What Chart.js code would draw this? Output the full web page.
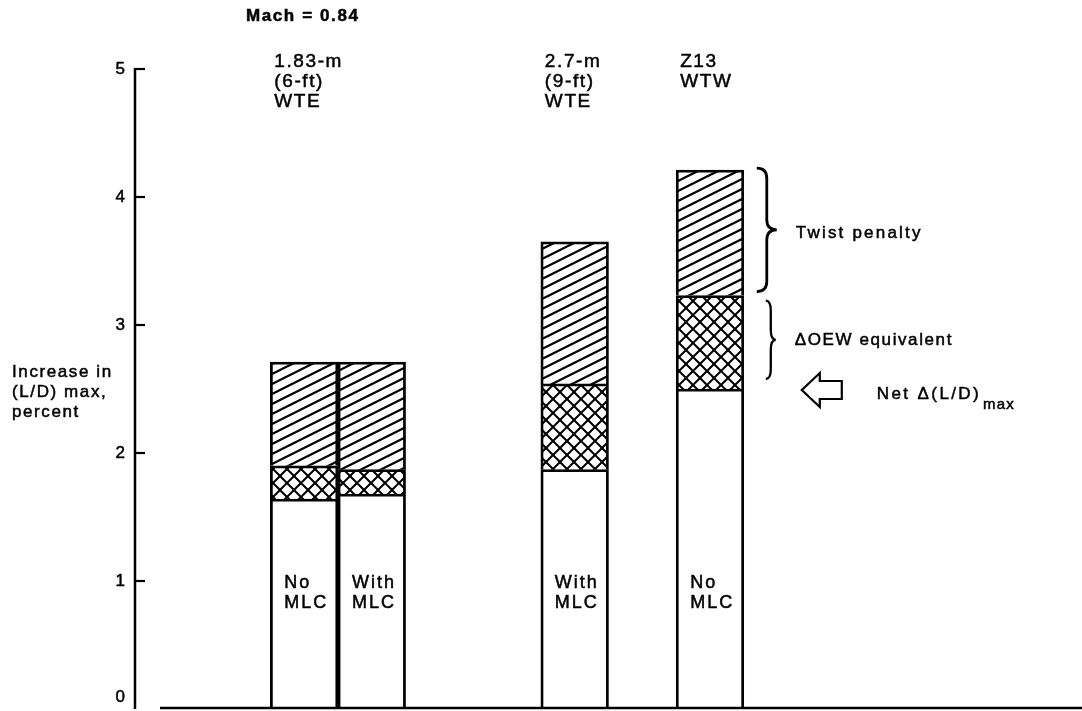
<!DOCTYPE html>
<html><head><meta charset="utf-8">
<script src="https://cdn.jsdelivr.net/npm/chart.js@4.4.1/dist/chart.umd.min.js"></script>
<style>html,body{margin:0;padding:0;background:#fff}#wrap{width:1082px;height:711px;position:relative}</style>
</head><body><div id="wrap"><canvas id="c"></canvas></div>
<script>
// ---- data ----
const categories = ['1.83-m (6-ft) WTE, No MLC', '1.83-m (6-ft) WTE, With MLC', '2.7-m (9-ft) WTE, With MLC', 'Z13 WTW, No MLC'];
const barPositions = [2.5, 3.5, 6.5, 8.5];
const netGain = [1.64, 1.68, 1.87, 2.50];        // Net Δ(L/D)max (white)
const oewEquivalent = [0.26, 0.19, 0.67, 0.73];  // ΔOEW equivalent (cross-hatch)
const twistPenalty = [0.81, 0.84, 1.11, 0.98];   // Twist penalty (diagonal hatch)
const barLabels = [['No', 'MLC'], ['With', 'MLC'], ['With', 'MLC'], ['No', 'MLC']];
const groupTitles = [['1.83-m', '(6-ft)', 'WTE'], null, ['2.7-m', '(9-ft)', 'WTE'], ['Z13', 'WTW']];
const yTicks = [0, 1, 2, 3, 4, 5];
const yTitle = ['Increase in', '(L/D) max,', 'percent'];
const chartTitle = 'Mach = 0.84';
const FONT = '"Liberation Sans", Arial, Helvetica, sans-serif';

function makeHatch() {
  const c = document.createElement('canvas'); c.width = 20; c.height = 10;
  const g = c.getContext('2d');
  g.fillStyle = '#fff'; g.fillRect(0, 0, 20, 10);
  g.strokeStyle = '#000'; g.lineWidth = 2.2;
  for (const dy of [-10, 0, 10]) { g.beginPath(); g.moveTo(-2, 11 + dy); g.lineTo(22, -1 + dy); g.stroke(); }
  return g.createPattern(c, 'repeat');
}
function makeCross() {
  const s = 14;
  const c = document.createElement('canvas'); c.width = s; c.height = s;
  const g = c.getContext('2d');
  g.fillStyle = '#fff'; g.fillRect(0, 0, s, s);
  g.strokeStyle = '#000'; g.lineWidth = 2;
  for (const ox of [-s, 0, s]) for (const oy of [-s, 0, s]) {
    g.beginPath(); g.moveTo(ox, oy); g.lineTo(ox + s, oy + s); g.stroke();
    g.beginPath(); g.moveTo(ox, oy + s); g.lineTo(ox + s, oy); g.stroke();
  }
  return g.createPattern(c, 'repeat');
}

const toPts = arr => barPositions.map((x, i) => ({ x, y: arr[i] }));
const common = { borderColor: '#000', borderWidth: 2.8, barPercentage: 1, categoryPercentage: 1, stack: 's' };
const datasets = [
  Object.assign({ label: 'Net Δ(L/D)max', data: toPts(netGain), backgroundColor: '#fff' }, common),
  Object.assign({ label: 'ΔOEW equivalent', data: toPts(oewEquivalent), backgroundColor: makeCross() }, common),
  Object.assign({ label: 'Twist penalty', data: toPts(twistPenalty), backgroundColor: makeHatch() }, common)
];

function txt(ctx, s, x, y, size, opts) {
  opts = opts || {};
  ctx.font = (opts.bold ? 'bold ' : '') + size + 'px ' + FONT;
  ctx.textAlign = opts.align || 'left';
  ctx.textBaseline = 'middle';
  try { ctx.letterSpacing = (opts.ls != null ? opts.ls : 1.8) + 'px'; } catch (e) {}
  ctx.fillText(s, x, y);
  ctx.lineWidth = 0.5; ctx.strokeText(s, x, y);
  const w = ctx.measureText(s).width;
  try { ctx.letterSpacing = '0px'; } catch (e) {}
  return w;
}

function brace(ctx, x0, x1, top, bot) {
  const mid = (top + bot) / 2, xm = (x0 + x1) / 2, r = Math.min(10, (bot - top) / 6);
  ctx.beginPath();
  ctx.moveTo(x0, top);
  ctx.quadraticCurveTo(xm, top, xm, top + r);
  ctx.lineTo(xm, mid - r);
  ctx.quadraticCurveTo(xm, mid, x1, mid);
  ctx.quadraticCurveTo(xm, mid, xm, mid + r);
  ctx.lineTo(xm, bot - r);
  ctx.quadraticCurveTo(xm, bot, x0, bot);
  ctx.stroke();
}

const decor = {
  id: 'decor',
  afterDraw(chart) {
    const ctx = chart.ctx, ys = chart.scales.y, ca = chart.chartArea;
    const mBot = chart.getDatasetMeta(0), mMid = chart.getDatasetMeta(1), mTop = chart.getDatasetMeta(2);
    ctx.save();
    ctx.strokeStyle = '#000'; ctx.fillStyle = '#000'; ctx.lineWidth = 2.5;
    const ax = ca.left;
    // y axis
    ctx.beginPath(); ctx.moveTo(ax, ys.getPixelForValue(5) - 1); ctx.lineTo(ax, ca.bottom); ctx.stroke();
    yTicks.forEach(v => {
      if (v === 0) return;
      const py = ys.getPixelForValue(v);
      ctx.lineWidth = 2.2;
      ctx.beginPath(); ctx.moveTo(ax - 1, py); ctx.lineTo(ax + 10, py); ctx.stroke();
    });
    yTicks.forEach(v => {
      const py = Math.min(ys.getPixelForValue(v), ca.bottom - 12);
      txt(ctx, String(v), ax - 10, py, 17, { align: 'right', ls: 0 });
    });
    // baseline
    ctx.lineWidth = 2.5;
    ctx.beginPath(); ctx.moveTo(ax + 25, ca.bottom - 1); ctx.lineTo(ca.right, ca.bottom - 1); ctx.stroke();

    // y title
    yTitle.forEach((s, i) => txt(ctx, s, 12, 372 + i * 20, 17, { ls: 1.6 }));
    // chart title
    txt(ctx, chartTitle, 246, 16, 17, { bold: true, ls: 1.6 });

    // group titles and bar labels
    mBot.data.forEach((el, i) => {
      const left = el.x - el.width / 2;
      if (groupTitles[i]) groupTitles[i].forEach((s, k) => txt(ctx, s, left + 4, 62 + k * 20, 19, { ls: 1.6 }));
      barLabels[i].forEach((s, k) => txt(ctx, s, left + 14, 583 + k * 20, 18, { ls: 2 }));
    });

    // braces for the last bar
    const last = barPositions.length - 1;
    const topPx = mTop.data[last].y, midPx = mMid.data[last].y, botPx = mBot.data[last].y;
    const rx = mBot.data[last].x + mBot.data[last].width / 2;
    ctx.lineWidth = 2.8;
    brace(ctx, rx + 13, rx + 33, topPx - 2, midPx - 4);
    ctx.lineWidth = 2.3;
    brace(ctx, rx + 22, rx + 32, midPx + 5, botPx - 10);
    txt(ctx, 'Twist penalty', rx + 52, (topPx + midPx) / 2, 17, { ls: 2.2 });
    txt(ctx, 'ΔOEW equivalent', rx + 51, (midPx + botPx) / 2 - 2, 17, { ls: 1.6 });

    // hollow arrow pointing at net value
    const cy = botPx + 1, x0 = rx + 58;
    ctx.lineWidth = 2.2;
    ctx.beginPath();
    ctx.moveTo(x0, cy);
    ctx.lineTo(x0 + 18, cy - 17);
    ctx.lineTo(x0 + 18, cy - 9);
    ctx.lineTo(x0 + 40, cy - 9);
    ctx.lineTo(x0 + 40, cy + 9);
    ctx.lineTo(x0 + 18, cy + 9);
    ctx.lineTo(x0 + 18, cy + 17);
    ctx.closePath();
    ctx.stroke();
    const w = txt(ctx, 'Net Δ(L/D)', rx + 133, cy + 4, 17, { ls: 2.4 });
    txt(ctx, 'max', rx + 133 + w + 2, cy + 15, 15, { ls: 1.2 });
    ctx.restore();
  }
};

new Chart(document.getElementById('c'), {
  type: 'bar',
  data: { labels: categories, datasets },
  options: {
    responsive: true, maintainAspectRatio: false, animation: false,
    layout: { padding: { top: 69, bottom: 2, left: 0, right: 0 } },
    plugins: { legend: { display: false }, tooltip: { enabled: false } },
    scales: {
      x: {
        type: 'linear', min: 0, max: 14, stacked: true, offset: false, display: false,
        ticks: { stepSize: 1 }, grid: { display: false }
      },
      y: {
        stacked: true, min: 0, max: 5,
        ticks: { display: false, stepSize: 1 },
        grid: { display: false, drawTicks: false },
        border: { display: false },
        afterFit: s => { s.width = 135; }
      }
    }
  },
  plugins: [decor]
});
</script>
</body></html>
